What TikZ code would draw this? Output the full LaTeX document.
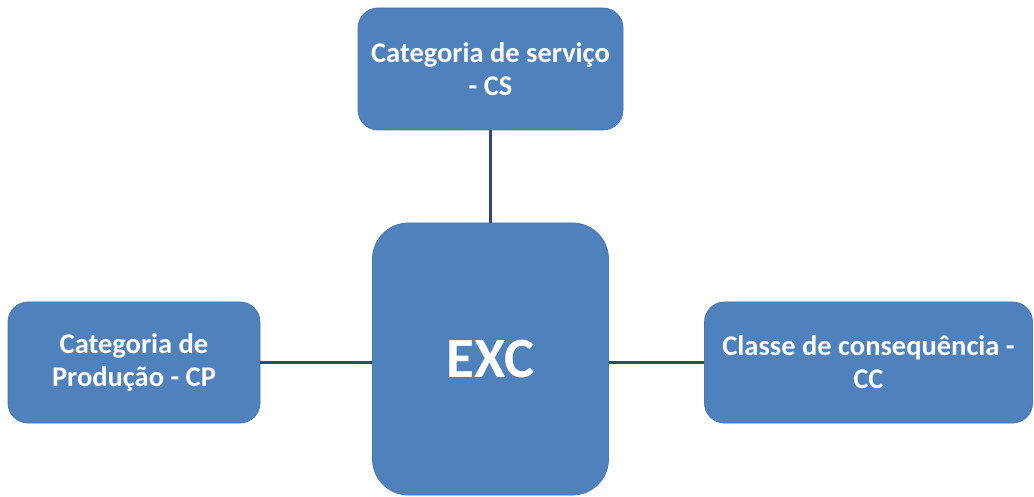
\documentclass[tikz,border=0pt]{standalone}
\usepackage{fontspec}
\setmainfont{Carlito}
\definecolor{boxblue}{HTML}{4F81BD}
\definecolor{boxedge}{HTML}{4A78B0}
\definecolor{linknavy}{HTML}{2E4A70}
\begin{document}
\begin{tikzpicture}[x=1pt,y=-1pt,
  catbox/.style={draw=boxedge,line width=0.8pt,fill=boxblue,rounded corners=20pt,
    inner sep=0pt,align=center,text=white,font=\fontsize{28.5}{33}\selectfont\bfseries},
  corebox/.style={catbox,rounded corners=36pt,font=\fontsize{57}{60}\selectfont\bfseries},
  link/.style={draw=linknavy,line width=2.6pt}]
\useasboundingbox (0,0) rectangle (1034,497);
% central element
\node[corebox,minimum width=236pt,minimum height=272pt] (exc) at (490.5,359) {EXC};
% surrounding categories
\node[catbox,minimum width=265pt,minimum height=122pt] (cs) at (490.5,69)
  {Categoria de serviço\\- CS};
\node[catbox,minimum width=252pt,minimum height=121pt] (cp) at (134,362.5)
  {Categoria de\\Produção - CP};
\node[catbox,minimum width=328pt,minimum height=121pt] (cc) at (868.5,362.5)
  {Classe de consequência -\\CC};
% connectors
\draw[link] (cs.south) -- (exc.north);
\draw[link] (cp.east) -- (cp.east -| exc.west);
\draw[link] (cc.west) -- (cc.west -| exc.east);
\end{tikzpicture}
\end{document}
